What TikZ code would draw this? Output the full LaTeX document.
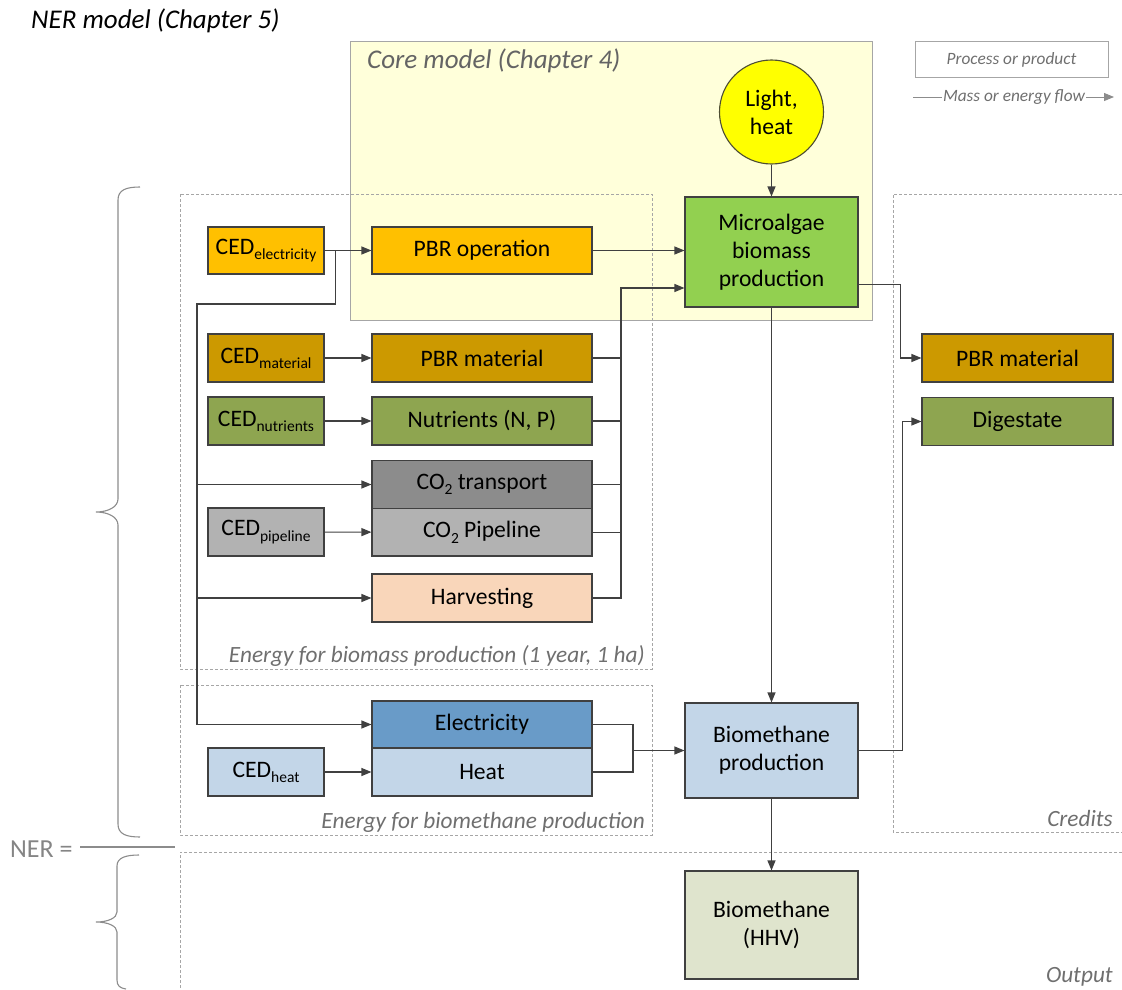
\documentclass[tikz,border=0pt]{standalone}
\usepackage{fontspec}
\setmainfont{Carlito}
\usetikzlibrary{arrows.meta,calc}
\definecolor{lnc}{HTML}{404040}
\definecolor{dashc}{HTML}{A6A6A6}
\definecolor{corefill}{HTML}{FFFFDA}
\definecolor{coreline}{HTML}{A6A6A6}
\definecolor{cOrange}{HTML}{FFC000}
\definecolor{cGold}{HTML}{CC9900}
\definecolor{cOlive}{HTML}{8EA550}
\definecolor{cDark}{HTML}{8C8C8C}
\definecolor{cMid}{HTML}{B2B2B2}
\definecolor{cPeach}{HTML}{F9D6BA}
\definecolor{cBlue}{HTML}{699BC8}
\definecolor{cLBlue}{HTML}{C3D6E8}
\definecolor{cGreen}{HTML}{92D050}
\definecolor{cSage}{HTML}{DFE4CD}
\definecolor{cYellow}{HTML}{FFFF00}
\definecolor{labc}{HTML}{6F6F6F}
\definecolor{bracec}{HTML}{8C8C8C}
\newcommand\mysub[1]{\raisebox{-0.22em}{\fontsize{15.5}{15.5}\selectfont #1}}
\begin{document}
\begin{tikzpicture}[x=1pt,y=-1pt,
  box/.style={draw=lnc, line width=1.1pt, inner sep=0pt, text=black,
    font=\fontsize{23.6}{28}\selectfont, align=center},
  flow/.style={draw=lnc, line width=1.1pt, -{Triangle[length=10pt,width=8pt]}},
  link/.style={draw=lnc, line width=1.1pt},
  region/.style={draw=dashc, line width=0.9pt, dash pattern=on 3pt off 2pt},
  lab/.style={text=labc, font=\fontsize{23.3}{27}\selectfont\itshape, inner sep=0pt},
  bracestyle/.style={draw=bracec, line width=1.1pt}
]
\useasboundingbox (0,0) rectangle (1122,990);

% core model region
\draw[draw=coreline, fill=corefill, line width=1pt] (350,42) rectangle (872,320);
\node[lab, anchor=base west, font=\fontsize{27}{31}\selectfont\itshape, text=labc!90!black] (coretitle) at (367,69) {Core model (Chapter 4)};

% title
\node[anchor=base west, inner sep=0pt, font=\fontsize{27}{31}\selectfont\itshape] (title) at (31,29) {NER model (Chapter 5)};

% dashed regions
\draw[region] (180,194) rectangle (652,669);
\draw[region] (180,685) rectangle (652,835);
\draw[region] (1122,194) -- (893,194) -- (893,832) -- (1122,832);
\draw[region] (1122,852) -- (180,852) -- (180,990);

\node[lab, anchor=base east] (lbio) at (645,662) {Energy for biomass production (1 year, 1 ha)};
\node[lab, anchor=base east] (lmeth) at (645,828) {Energy for biomethane production};
\node[lab, anchor=base east] (lcred) at (1113,826) {Credits};
\node[lab, anchor=base east] (lout) at (1113,982) {Output};

% legend
\node[draw=dashc, line width=1pt, minimum width=193pt, minimum height=36pt, inner sep=0pt,
  text=labc, font=\fontsize{17.3}{20}\selectfont\itshape] (legbox) at (1011.5,60) {Process or product};
\node[inner sep=1pt, text=labc, font=\fontsize{17.3}{20}\selectfont\itshape] (legtxt) at (1014,97) {Mass or energy flow};
\coordinate (legA) at (913,97);
\coordinate (legB) at (1114,97);
\draw[draw=labc!80, line width=1pt] (legA) -- (legtxt.west);
\draw[draw=labc!80, line width=1pt, -{Triangle[length=10pt,width=8pt]}] (legtxt.east) -- (legB);

% CED boxes
\node[box, fill=cOrange, minimum width=116pt, minimum height=47pt] (cedel) at (266,250.5) {CED\mysub{electricity}};
\node[box, fill=cGold, minimum width=116pt, minimum height=48pt] (cedmat) at (266,358) {CED\mysub{material}};
\node[box, fill=cOlive, minimum width=116pt, minimum height=48pt] (cednut) at (266,421) {CED\mysub{nutrients}};
\node[box, fill=cMid, minimum width=116pt, minimum height=48pt] (cedpipe) at (266,532) {CED\mysub{pipeline}};
\node[box, fill=cLBlue, minimum width=116pt, minimum height=48pt] (cedheat) at (266,772) {CED\mysub{heat}};

% process boxes
\node[box, fill=cOrange, minimum width=220pt, minimum height=47pt] (pbrop) at (482,250.5) {PBR operation};
\node[box, fill=cGold, minimum width=220pt, minimum height=48pt] (pbrmat) at (482,358) {PBR material};
\node[box, fill=cOlive, minimum width=220pt, minimum height=48pt] (nutr) at (482,421) {Nutrients (N, P)};
\node[box, fill=cDark, minimum width=220pt, minimum height=48pt] (co2t) at (482,484.5) {CO\mysub{2} transport};
\node[box, fill=cMid, minimum width=220pt, minimum height=47.5pt] (co2p) at (482,532.25) {CO\mysub{2} Pipeline};
\node[box, fill=cPeach, minimum width=220pt, minimum height=48pt] (harv) at (482,598) {Harvesting};
\node[box, fill=cBlue, minimum width=220pt, minimum height=47pt] (elec) at (482,724.5) {Electricity};
\node[box, fill=cLBlue, minimum width=220pt, minimum height=48pt] (heat) at (482,772) {Heat};

% central column
\node[box, fill=cYellow, draw=lnc!80!olive, circle, minimum size=104pt] (light) at (771.5,112) {Light,\\heat};
\node[box, fill=cGreen, minimum width=173pt, minimum height=110pt] (micro) at (771.5,252) {Microalgae\\biomass\\production};
\node[box, fill=cLBlue, minimum width=173pt, minimum height=95pt] (biop) at (771.5,750.5) {Biomethane\\production};
\node[box, fill=cSage, minimum width=173pt, minimum height=108pt] (hhv) at (771.5,925) {Biomethane\\(HHV)};

% credits
\node[box, fill=cGold, minimum width=191pt, minimum height=48pt] (credmat) at (1017.5,358) {PBR material};
\node[box, fill=cOlive, minimum width=191pt, minimum height=48pt] (digest) at (1017.5,421.5) {Digestate};

% connectors: CED -> processes
\draw[flow] (cedel.east) -- (cedel.east -| pbrop.west);
\draw[flow] (cedmat) -- (pbrmat);
\draw[flow] (cednut) -- (nutr);
\draw[flow] (cedpipe) -- (co2p);
\draw[flow] (cedheat) -- (heat);

% electricity distribution line
\coordinate (jb) at ($(cedel.east)+(11,0)$);
\coordinate (bl) at (197,304);
\draw[flow] (jb) |- (bl) |- (elec.west);
\draw[flow] (bl |- co2t.west) -- (co2t.west);
\draw[flow] (bl |- harv.west) -- (harv.west);

% PBR operation -> microalgae
\draw[flow] (pbrop.east) -- (pbrop.east -| micro.west);

% bus to microalgae
\coordinate (bus) at (621,288);
\draw[flow] (harv.east) -| (bus) -- (bus -| micro.west);
\draw[link] (pbrmat.east) -- (pbrmat.east -| bus);
\draw[link] (nutr.east) -- (nutr.east -| bus);
\draw[link] (co2t.east) -- (co2t.east -| bus);
\draw[link] (co2p.east) -- (co2p.east -| bus);

% light -> microalgae
\draw[flow] (light.south) -- (micro.north);
% microalgae -> biomethane production
\draw[flow] (micro.south) -- (biop.north);
% microalgae -> PBR material credit
\draw[flow] ($(micro.south east)+(0,-23)$) -| ($(credmat.west)+(-21,0)$) -- (credmat.west);
% biomethane production -> digestate
\draw[flow] (biop.east) -| ($(digest.west)+(-19,0)$) -- (digest.west);

% energy merge
\coordinate (mg) at (633,750.5);
\draw[link] (elec.east) -| (mg |- heat.east) -- (heat.east);
\draw[flow] (mg |- biop.west) -- (biop.west);

% biomethane production -> output
\draw[flow] (biop.south) -- (hhv.north);

% braces and NER
\draw[bracestyle] (140,187) .. controls (126,187) and (118,190) .. (118,200) -- (118,499)
  .. controls (118,507) and (108,512) .. (96,512) .. controls (108,512) and (118,517) .. (118,525)
  -- (118,824) .. controls (118,834) and (126,837) .. (140,837);
\draw[bracestyle] (139,855) .. controls (125,855) and (117,858) .. (117,866) -- (117,912)
  .. controls (117,918) and (108,922) .. (96,922) .. controls (108,922) and (117,926) .. (117,932)
  -- (117,980) .. controls (117,986) and (120,988) .. (126,989);
\node[anchor=base west, inner sep=0pt, text=labc!85, font=\fontsize{26}{30}\selectfont] (ner) at (10,857) {NER =};
\coordinate (fracA) at (80,847);
\coordinate (fracB) at (175,847);
\draw[draw=bracec, line width=1.1pt] (fracA) -- (fracB);
\end{tikzpicture}
\end{document}
